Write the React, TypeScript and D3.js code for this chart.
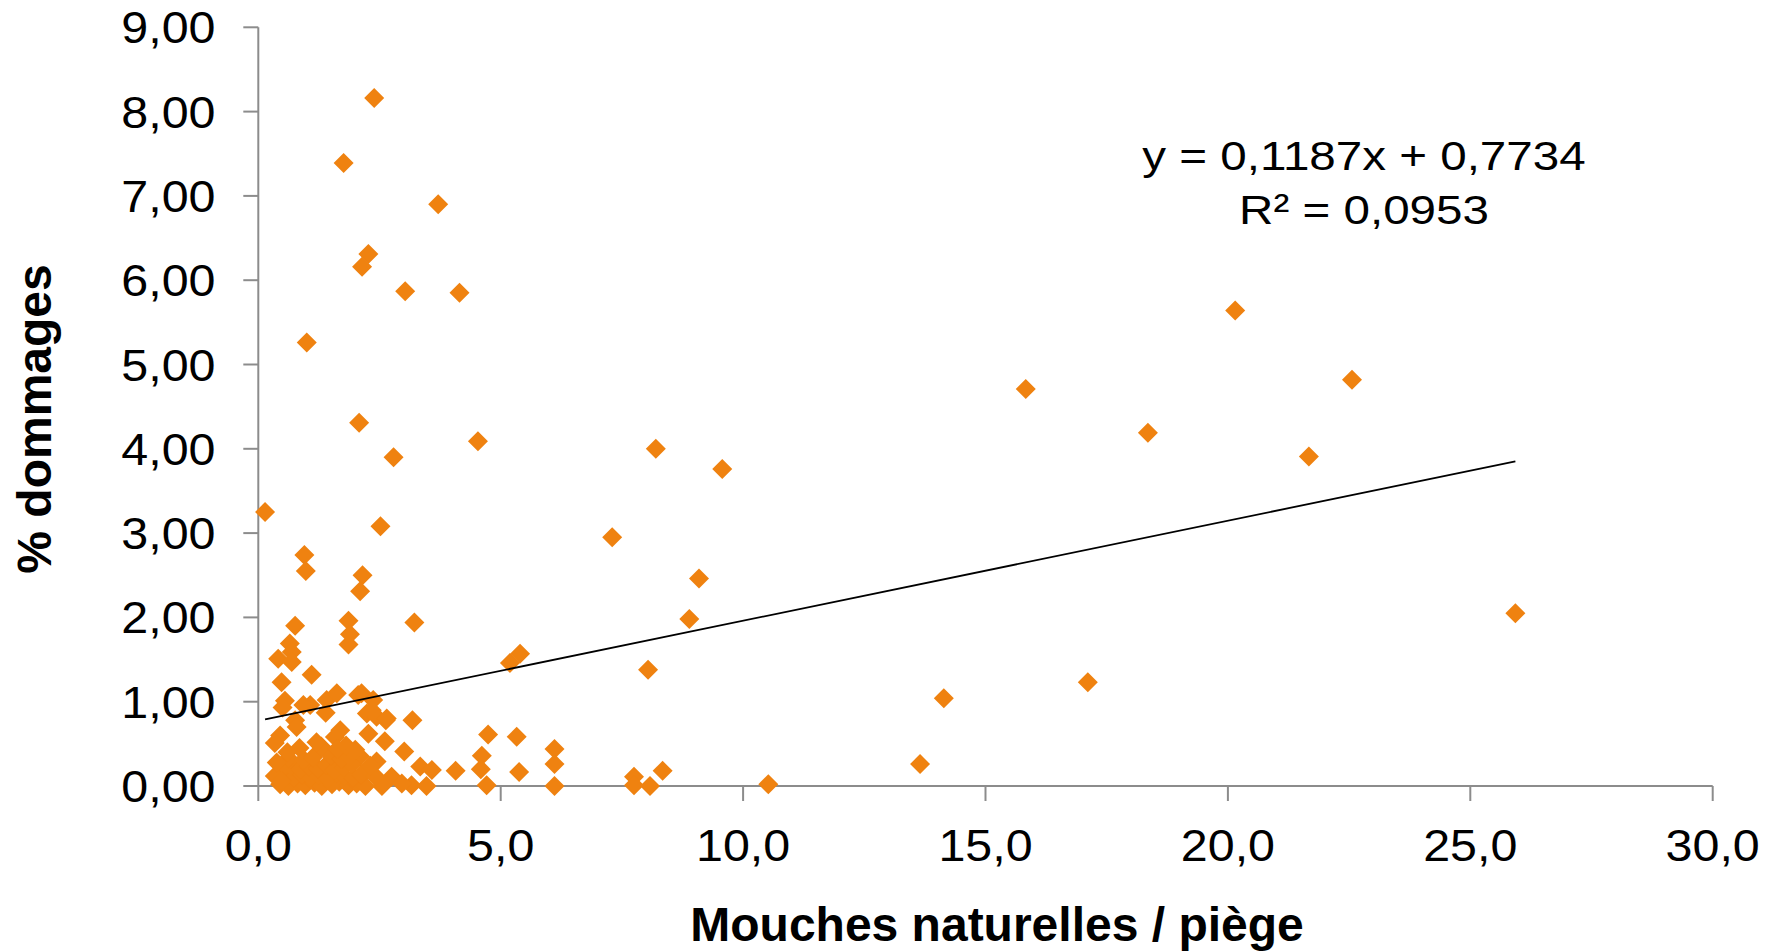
import React from "react";
import * as d3 from "d3";

const xTicks = [0, 5, 10, 15, 20, 25, 30];
const yTicks = [0, 1, 2, 3, 4, 5, 6, 7, 8, 9];

// Sparse points (Mouches naturelles / piège, % dommages)
const upperX = [2.39, 1.76, 3.71, 2.27, 2.14, 3.03, 4.15, 1.0, 2.08, 2.79, 4.53, 0.14, 2.52, 0.95, 0.98, 2.15, 2.1];
const upperY = [8.16, 7.39, 6.9, 6.31, 6.16, 5.87, 5.85, 5.26, 4.31, 3.9, 4.09, 3.25, 3.08, 2.74, 2.55, 2.5, 2.31];

const midX = [8.2, 9.57, 7.3, 9.09, 8.89, 5.19, 5.4, 8.04, 5.33, 6.11, 6.11, 5.38, 6.11, 7.75, 7.75, 8.08, 8.34, 10.52];
const midY = [4.0, 3.76, 2.95, 2.46, 1.98, 1.46, 1.57, 1.38, 0.585, 0.44, 0.26, 0.166, 0.0, 0.11, 0.01, 0.0, 0.18, 0.02];

const rightX = [20.15, 15.83, 22.56, 18.35, 21.67, 25.93, 17.11, 14.14, 13.65];
const rightY = [5.64, 4.71, 4.82, 4.19, 3.91, 2.05, 1.23, 1.04, 0.26];

const clusterX = [0.76, 1.86, 1.89, 1.86, 3.22, 0.65, 0.41, 0.69, 0.69, 1.1, 0.48, 0.55, 0.5, 1.07, 1.41, 1.62, 1.39, 2.13, 2.37, 2.24, 2.44, 2.63, 3.18, 0.76, 0.79, 0.45, 0.34, 2.27, 2.61, 3.01, 4.74, 1.69, 3.34, 3.58, 4.07, 4.61, 4.59, 4.71, 2.44, 2.1, 2.2, 2.75, 3.16, 3.47, 2.96, 2.55, 2.34, 2.65, 2.06, 0.93, 1.58];
const clusterY = [1.9, 1.96, 1.8, 1.68, 1.94, 1.69, 1.51, 1.59, 1.47, 1.32, 1.23, 1.01, 0.93, 0.96, 1.02, 1.1, 0.87, 1.1, 1.02, 0.86, 0.82, 0.78, 0.78, 0.78, 0.7, 0.6, 0.51, 0.62, 0.53, 0.41, 0.61, 0.66, 0.23, 0.19, 0.18, 0.36, 0.2, 0.01, 0.29, 0.35, 0.17, 0.11, 0.01, 0.0, 0.03, 0.0, 0.9, 0.8, 1.08, 0.96, 0.58];

const blobX = [0.45, 0.62, 0.81, 0.97, 1.16, 1.31, 1.52, 1.67, 1.86, 2.03, 2.21, 0.56, 0.73, 0.9, 1.08, 1.24, 1.43, 1.61, 1.77, 1.96, 2.12, 2.41, 0.5, 0.67, 0.87, 1.04, 1.23, 1.4, 1.57, 1.76, 1.93, 2.31, 0.62, 0.94, 1.13, 1.5, 1.72, 1.88, 0.85, 1.3, 1.63, 1.81, 2.0, 0.34, 0.48, 0.38, 0.6, 1.2];
const blobY = [0.02, 0.0, 0.03, 0.01, 0.04, 0.0, 0.02, 0.05, 0.01, 0.03, 0.0, 0.12, 0.1, 0.14, 0.11, 0.13, 0.09, 0.15, 0.12, 0.1, 0.14, 0.12, 0.22, 0.24, 0.2, 0.23, 0.21, 0.25, 0.19, 0.22, 0.26, 0.24, 0.33, 0.31, 0.34, 0.36, 0.32, 0.35, 0.45, 0.47, 0.44, 0.48, 0.43, 0.12, 0.06, 0.28, 0.4, 0.52];

const slope = 0.1187;
const intercept = 0.7734;
const eqLine1 = "y = 0,1187x + 0,7734";
const eqLine2 = "R² = 0,0953";
const xTitle = "Mouches naturelles / piège";
const yTitle = "% dommages";

const W = 1777;
const H = 952;
const ORANGE = "#EF8210";
const AXIS = "#8c8c8c";

export default function App() {
  const x = d3.scaleLinear().domain([0, 30]).range([258.3, 1712.7]);
  const y = d3.scaleLinear().domain([0, 9]).range([786, 27.3]);

  const allX = [...upperX, ...midX, ...rightX, ...clusterX, ...blobX];
  const allY = [...upperY, ...midY, ...rightY, ...clusterY, ...blobY];
  const pts = allX.map((v, i) => [v, allY[i]] as [number, number]);

  const minX = d3.min(allX) as number;
  const maxX = d3.max(allX) as number;
  const line = d3.line<number>().x((v) => x(v)).y((v) => y(slope * v + intercept));

  const diamond = d3.symbol(d3.symbolSquare, 200)() as string;
  const fmtX = (v: number) => v.toFixed(1).replace(".", ",");
  const fmtY = (v: number) => v.toFixed(2).replace(".", ",");
  const font = "'Liberation Sans', Arial, sans-serif";

  return (
    <svg width={W} height={H} style={{ position: "absolute", left: 0, top: 0, background: "#fff" }} fontFamily={font}>
      <rect x={0} y={0} width={W} height={H} fill="#fff" />
      {/* axes */}
      <line x1={x(0)} x2={x(30)} y1={y(0)} y2={y(0)} stroke={AXIS} strokeWidth={2} />
      <line x1={x(0)} x2={x(0)} y1={y(0) + 1} y2={y(9)} stroke={AXIS} strokeWidth={2} />
      {yTicks.map((t) => (
        <g key={"y" + t}>
          <line x1={x(0) - 15} x2={x(0)} y1={y(t)} y2={y(t)} stroke={AXIS} strokeWidth={2} />
          <text transform={`translate(${215.5},${y(t) + 16}) scale(1.1,1)`} textAnchor="end" fontSize={44} fill="#000">
            {fmtY(t)}
          </text>
        </g>
      ))}
      {xTicks.map((t) => (
        <g key={"x" + t}>
          <line x1={x(t)} x2={x(t)} y1={y(0)} y2={y(0) + 15} stroke={AXIS} strokeWidth={2} />
          <text transform={`translate(${x(t)},${861}) scale(1.1,1)`} textAnchor="middle" fontSize={44} fill="#000">
            {fmtX(t)}
          </text>
        </g>
      ))}
      {/* points */}
      {pts.map(([a, b], i) => (
        <path key={i} d={diamond} transform={`translate(${x(a)},${y(b)}) rotate(45)`} fill={ORANGE} />
      ))}
      {/* trendline */}
      <path d={line([minX, maxX]) as string} fill="none" stroke="#000" strokeWidth={1.8} />
      {/* equation */}
      <text transform={`translate(1364,170) scale(1.16,1)`} textAnchor="middle" fontSize={41} fill="#000">
        {eqLine1}
      </text>
      <text transform={`translate(1364,224) scale(1.16,1)`} textAnchor="middle" fontSize={41} fill="#000">
        {eqLine2}
      </text>
      {/* titles */}
      <text x={997} y={941} textAnchor="middle" fontSize={48} fontWeight="bold" fill="#000">
        {xTitle}
      </text>
      <text transform={`translate(51,419) rotate(-90)`} textAnchor="middle" fontSize={48} fontWeight="bold" fill="#000">
        {yTitle}
      </text>
    </svg>
  );
}
